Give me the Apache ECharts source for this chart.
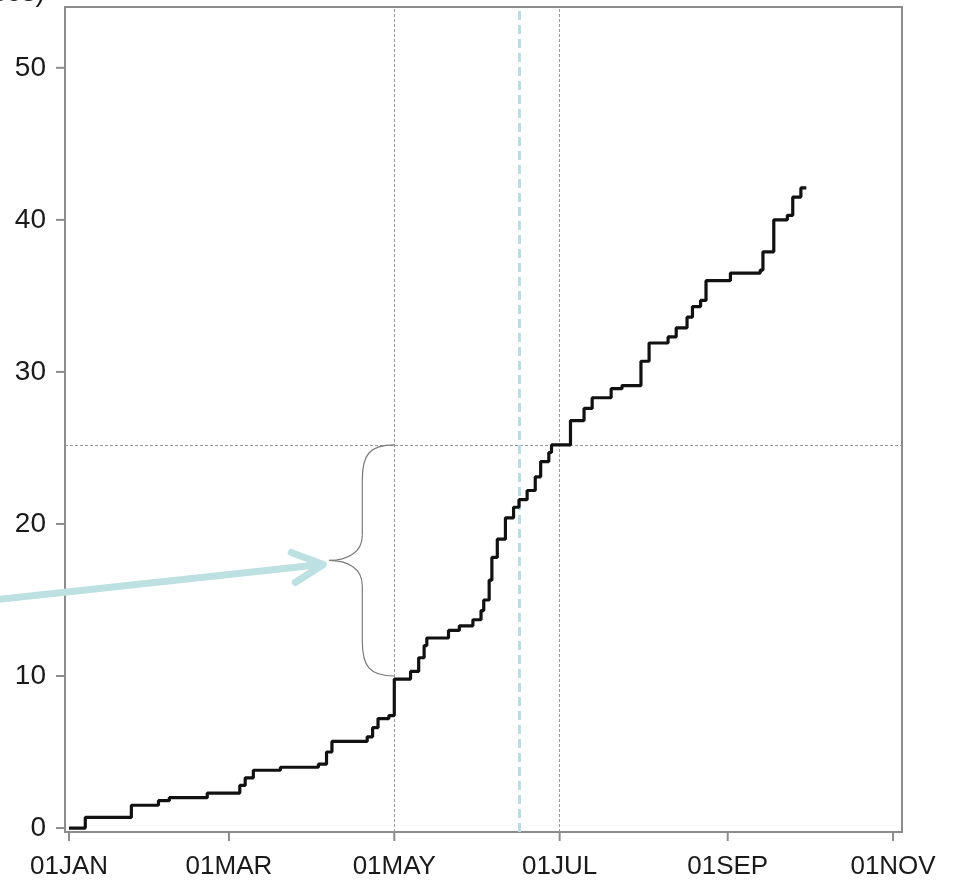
<!DOCTYPE html>
<html>
<head>
<meta charset="utf-8">
<title>cumulative cases</title>
<script src="https://cdn.jsdelivr.net/npm/echarts@6/dist/echarts.min.js"></script>
<style>
  html, body { margin: 0; padding: 0; background: #fff; }
  #chart_cases { width: 953px; height: 885px; }
</style>
</head>
<body>
<div id="chart_cases"></div>
<script>
// day of year (0 = 01JAN) and cumulative value after each step
var stepDays  = [0, 6, 23, 33, 37, 51, 63, 65, 68, 78, 92, 95, 97, 110, 112, 114, 118, 120, 126, 129, 131, 132, 140, 144, 149, 152, 153, 155, 156, 158, 161, 164, 166, 169, 172, 174, 177, 178, 185, 190, 193, 200, 204, 211, 214, 221, 224, 228, 230, 233, 235, 244, 255, 256, 260, 265, 267, 270, 272];
var stepCases = [0, 0.7, 1.5, 1.8, 2.0, 2.3, 2.8, 3.3, 3.8, 4.0, 4.2, 5.0, 5.7, 6.0, 6.6, 7.2, 7.4, 9.8, 10.3, 11.2, 12.0, 12.5, 13.0, 13.3, 13.7, 14.3, 15.0, 16.3, 17.8, 19.0, 20.4, 21.1, 21.6, 22.2, 23.1, 24.1, 24.7, 25.2, 26.8, 27.6, 28.3, 28.9, 29.1, 30.7, 31.9, 32.3, 32.9, 33.6, 34.3, 34.7, 36.0, 36.5, 36.7, 37.9, 40.0, 40.3, 41.5, 42.1, 42.1];

var xTickDays   = [0, 59, 120, 181, 243, 304];
var xTickLabels = ['01JAN', '01MAR', '01MAY', '01JUL', '01SEP', '01NOV'];
var yTickValues = [0, 10, 20, 30, 40, 50];

// reference lines
var refDays    = [120, 181];
var refCases   = 25.2;
var markDay    = 166;
var braceLow   = 10;
var braceHigh  = 25.2;

var xMin = -1.48, xMax = 307.3;
var yMin = -0.26, yMax = 54.0;

var FONT = '"Liberation Sans", Arial, Helvetica, sans-serif';
var AXIS_GRAY = '#8c8c8c';

var seriesData = [];
for (var i = 0; i < stepDays.length; i++) {
    seriesData.push([stepDays[i], stepCases[i]]);
}

// x轴刻度和标签
function renderXTick(params, api) {
    var p = api.coord([api.value(0), yMin]);
    return {
        type: 'group',
        children: [
            { type: 'line', shape: { x1: p[0], y1: p[1], x2: p[0], y2: p[1] + 9 },
              style: { stroke: AXIS_GRAY, lineWidth: 2 } },
            { type: 'text', style: { text: xTickLabels[params.dataIndex], x: p[0], y: p[1] + 35,
              align: 'center', verticalAlign: 'middle', fontSize: 26, fontFamily: FONT, fill: '#1a1a1a' } }
        ]
    };
}

// y轴刻度和标签
function renderYTick(params, api) {
    var p = api.coord([xMin, api.value(0)]);
    return {
        type: 'group',
        children: [
            { type: 'line', shape: { x1: p[0] - 9, y1: p[1], x2: p[0], y2: p[1] },
              style: { stroke: AXIS_GRAY, lineWidth: 2 } },
            { type: 'text', style: { text: String(yTickValues[params.dataIndex]), x: p[0] - 19, y: p[1],
              align: 'right', verticalAlign: 'middle', fontSize: 28, fontFamily: FONT, fill: '#1a1a1a' } }
        ]
    };
}

var myChart = echarts.init(document.getElementById('chart_cases'));

var markLines = [];
for (var j = 0; j < refDays.length; j++) {
    markLines.push({ xAxis: refDays[j], lineStyle: { color: '#9a9a9a', width: 1, type: [3, 2] } });
}
markLines.push({ yAxis: refCases, lineStyle: { color: '#9a9a9a', width: 1, type: [3, 2] } });
markLines.push({ xAxis: markDay, lineStyle: { color: '#b9dde1', width: 3, type: [9, 5] } });

var option = {
    animation: false,
    grid: {
        left: 65, top: 7, right: 51, bottom: 53,
        show: true, borderColor: AXIS_GRAY, borderWidth: 2, backgroundColor: '#fff'
    },
    xAxis: {
        type: 'value', min: xMin, max: xMax,
        axisLine: { show: false }, axisTick: { show: false },
        axisLabel: { show: false }, splitLine: { show: false }
    },
    yAxis: {
        type: 'value', min: yMin, max: yMax,
        axisLine: { show: false }, axisTick: { show: false },
        axisLabel: { show: false }, splitLine: { show: false }
    },
    series: [
        {
            type: 'line',
            step: 'end',
            symbol: 'none',
            data: seriesData,
            lineStyle: { color: '#111', width: 3.2 },
            z: 5,
            markLine: {
                symbol: 'none',
                silent: true,
                label: { show: false },
                data: markLines
            }
        },
        {
            type: 'custom',
            renderItem: renderXTick,
            data: xTickDays.map(function (d) { return [d]; }),
            clip: false, silent: true
        },
        {
            type: 'custom',
            renderItem: renderYTick,
            data: yTickValues.map(function (v) { return [v]; }),
            clip: false, silent: true
        }
    ]
};
myChart.setOption(option);

// 括号和箭头
var pTop = myChart.convertToPixel({ gridIndex: 0 }, [refDays[0], braceHigh]);
var pBot = myChart.convertToPixel({ gridIndex: 0 }, [refDays[0], braceLow]);
var x0 = pTop[0], yT = pTop[1], yB = pBot[1];
var xm = x0 - 32, xt = x0 - 65, yM = (yT + yB) / 2;
var braceStyle = { stroke: '#7a7a7a', lineWidth: 1.2, fill: null };
var arrowStyle = { stroke: '#bde0e3', lineWidth: 7, lineCap: 'round', lineJoin: 'round', fill: null };

function curve(x1, y1, c1x, c1y, c2x, c2y, x2, y2) {
    return { type: 'bezierCurve', z: 10, silent: true,
             shape: { x1: x1, y1: y1, cpx1: c1x, cpy1: c1y, cpx2: c2x, cpy2: c2y, x2: x2, y2: y2 },
             style: braceStyle };
}
function seg(x1, y1, x2, y2) {
    return { type: 'line', z: 10, silent: true,
             shape: { x1: x1, y1: y1, x2: x2, y2: y2 }, style: braceStyle };
}

myChart.setOption({
    graphic: [
        curve(x0, yT, x0 - 25, yT, xm, yT + 10, xm, yT + 35),
        seg(xm, yT + 35, xm, yM - 25),
        curve(xm, yM - 25, xm, yM - 8, xm - 15, yM, xt, yM),
        curve(xt, yM, xm - 15, yM, xm, yM + 8, xm, yM + 25),
        seg(xm, yM + 25, xm, yB - 35),
        curve(xm, yB - 35, xm, yB - 10, x0 - 25, yB, x0, yB),
        {
            type: 'polyline', z: 10, silent: true,
            shape: { points: [[xt - 340, yM + 40], [xt - 8, yM + 4]] },
            style: arrowStyle
        },
        {
            type: 'polyline', z: 10, silent: true,
            shape: { points: [[xt - 38, yM - 8], [xt - 6, yM + 4], [xt - 34, yM + 22]] },
            style: arrowStyle
        },
        {
            type: 'text', silent: true, left: -47, top: -21,
            style: { text: '(cases)', fontSize: 28, fontFamily: FONT, fill: '#1a1a1a' }
        }
    ]
});
</script>
</body>
</html>
